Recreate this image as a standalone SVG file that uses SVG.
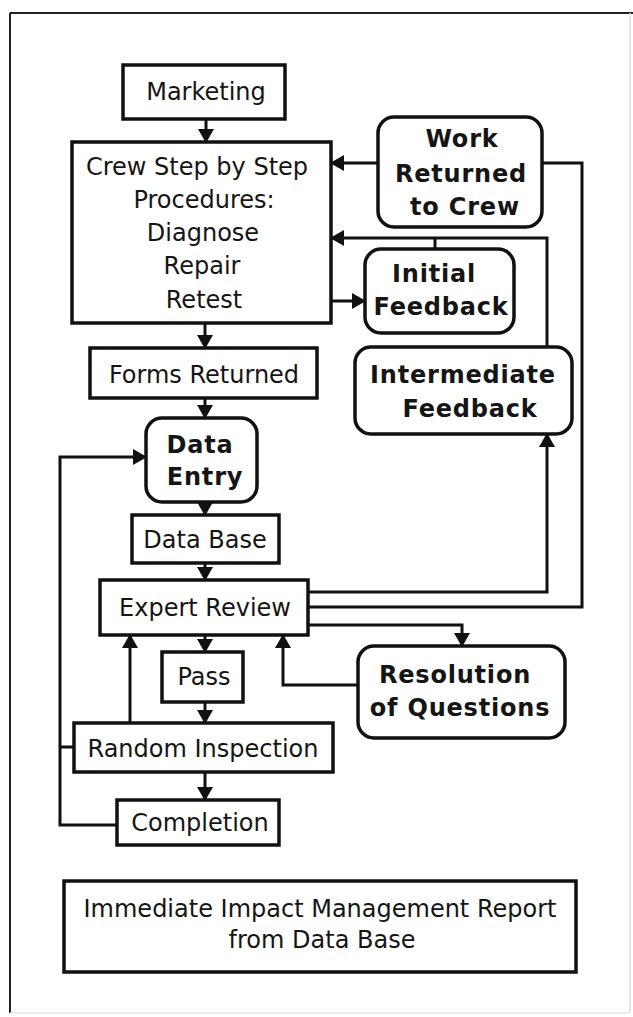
<svg xmlns="http://www.w3.org/2000/svg" width="633" height="1017" viewBox="0 0 633 1017">
<style>
.box{fill:#fff;stroke:#111;stroke-width:3.5}
.rbox{fill:#fff;stroke:#111;stroke-width:3.5}
.c{fill:none;stroke:#111;stroke-width:3}
.t{font-family:"DejaVu Sans",sans-serif;font-size:24px;fill:#151515;text-anchor:middle}
.b{font-family:"DejaVu Sans",sans-serif;font-weight:bold;font-size:24px;fill:#151515;text-anchor:middle;letter-spacing:0.8px}
</style>
<defs>
<marker id="ah" markerUnits="userSpaceOnUse" markerWidth="14" markerHeight="16" refX="13" refY="8" orient="auto">
<path d="M0,0 L14,8 L0,16 z" fill="#111"/>
</marker>
</defs>
<rect width="633" height="1017" fill="#fff"/>
<g id="frame">
<line x1="10" y1="13" x2="633" y2="13" stroke="#222" stroke-width="2"/>
<line x1="10" y1="13" x2="10" y2="1013" stroke="#222" stroke-width="2"/>
<line x1="630" y1="13" x2="630" y2="1013" stroke="#ddd" stroke-width="1.5"/>
<line x1="10" y1="1013" x2="630" y2="1013" stroke="#e6e6e6" stroke-width="1.5"/>
</g>
<g id="connectors">
<path class="c" d="M206,119 L206,142" marker-end="url(#ah)"/>
<path class="c" d="M205,323 L205,348" marker-end="url(#ah)"/>
<path class="c" d="M205,398 L205,418" marker-end="url(#ah)"/>
<path class="c" d="M205,502 L205,515" marker-end="url(#ah)"/>
<path class="c" d="M205,563 L205,580" marker-end="url(#ah)"/>
<path class="c" d="M205,635 L205,652" marker-end="url(#ah)"/>
<path class="c" d="M205,702 L205,723" marker-end="url(#ah)"/>
<path class="c" d="M205,772 L205,800" marker-end="url(#ah)"/>
<path class="c" d="M256,301 L365,301" marker-end="url(#ah)"/>
<path class="c" d="M378,163 L331,163" marker-end="url(#ah)"/>
<path class="c" d="M547,347 L547,238 L331,238" marker-end="url(#ah)"/>
<path class="c" d="M435,249 L435,238"/>
<path class="c" d="M308,592 L547,592 L547,434" marker-end="url(#ah)"/>
<path class="c" d="M308,607 L582,607 L582,163 L542,163"/>
<path class="c" d="M308,625 L462,625 L462,646" marker-end="url(#ah)"/>
<path class="c" d="M358,685 L283,685 L283,635" marker-end="url(#ah)"/>
<path class="c" d="M130,723 L130,635" marker-end="url(#ah)"/>
<path class="c" d="M117,825 L60,825 L60,457 L146,457" marker-end="url(#ah)"/>
<path class="c" d="M74,747 L60,747"/>
</g>
<g id="marketing">
<rect class="box" x="123" y="65" width="162" height="54"/>
<text class="t" x="206" y="100">Marketing</text>
</g>
<g id="crew">
<rect class="box" x="72" y="142" width="259" height="181"/>
<text class="t" x="197" y="175">Crew Step by Step</text>
<text class="t" x="204" y="208">Procedures:</text>
<text class="t" x="203" y="241">Diagnose</text>
<text class="t" x="202" y="274">Repair</text>
<text class="t" x="204" y="308">Retest</text>
</g>
<g id="work-returned">
<rect class="rbox" x="378" y="117" width="164" height="110" rx="16"/>
<text class="b" x="462" y="147">Work</text>
<text class="b" x="461" y="182">Returned</text>
<text class="b" x="465" y="215">to Crew</text>
</g>
<g id="initial-feedback">
<rect class="rbox" x="365" y="249" width="149" height="84" rx="16"/>
<text class="b" x="434" y="282">Initial</text>
<text class="b" x="441" y="315">Feedback</text>
</g>
<g id="intermediate-feedback">
<rect class="rbox" x="355" y="347" width="217" height="87" rx="16"/>
<text class="b" x="463" y="383">Intermediate</text>
<text class="b" x="470" y="417">Feedback</text>
</g>
<g id="forms-returned">
<rect class="box" x="90" y="348" width="227" height="50"/>
<text class="t" x="204" y="383">Forms Returned</text>
</g>
<g id="data-entry">
<rect class="rbox" x="146" y="418" width="111" height="84" rx="16"/>
<text class="b" x="200" y="453">Data</text>
<text class="b" x="205" y="485">Entry</text>
</g>
<g id="data-base">
<rect class="box" x="132" y="515" width="147" height="48"/>
<text class="t" x="205" y="548">Data Base</text>
</g>
<g id="expert-review">
<rect class="box" x="100" y="580" width="208" height="55"/>
<text class="t" x="205" y="616">Expert Review</text>
</g>
<g id="resolution">
<rect class="rbox" x="358" y="646" width="207" height="92" rx="16"/>
<text class="b" x="455" y="683">Resolution</text>
<text class="b" x="460" y="716">of Questions</text>
</g>
<g id="pass">
<rect class="box" x="162" y="652" width="81" height="50"/>
<text class="t" x="204" y="685">Pass</text>
</g>
<g id="random-inspection">
<rect class="box" x="74" y="723" width="259" height="49"/>
<text class="t" x="203" y="757">Random Inspection</text>
</g>
<g id="completion">
<rect class="box" x="117" y="800" width="162" height="45"/>
<text class="t" x="200" y="831">Completion</text>
</g>
<g id="report">
<rect class="box" x="64" y="881" width="512" height="91"/>
<text class="t" x="320" y="917">Immediate Impact Management Report</text>
<text class="t" x="322" y="948">from Data Base</text>
</g>
</svg>
